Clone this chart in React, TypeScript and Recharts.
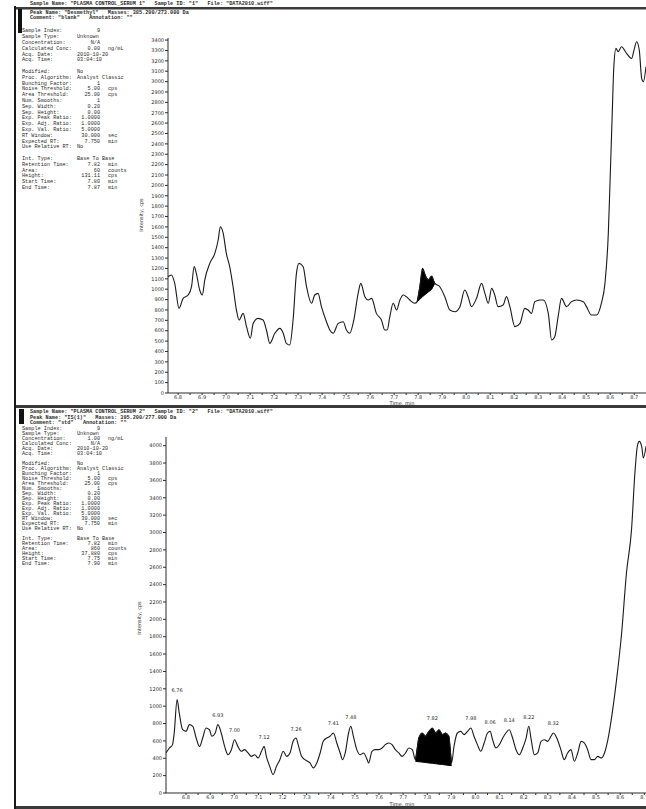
import React from "react";
import {
  Area,
  ComposedChart,
  LabelList,
  Line,
  Scatter,
  XAxis,
  YAxis,
} from "recharts";

// ---- upper trace (no labels) ----
const topTimes = [
  6.758, 6.772, 6.786, 6.804, 6.821, 6.842, 6.856, 6.867, 6.876, 6.89, 6.901, 6.911, 6.932, 6.953,
  6.967, 6.976, 6.988, 7.001, 7.015, 7.029, 7.043, 7.054, 7.071, 7.085, 7.101, 7.113, 7.133, 7.154,
  7.168, 7.182, 7.203, 7.224, 7.238, 7.251, 7.265, 7.279, 7.293, 7.304, 7.321, 7.335, 7.356, 7.369,
  7.383, 7.397, 7.418, 7.432, 7.446, 7.467, 7.488, 7.501, 7.515, 7.532, 7.55, 7.561, 7.578, 7.592,
  7.606, 7.626, 7.647, 7.661, 7.671, 7.682, 7.696, 7.71, 7.724, 7.738, 7.751, 7.765, 7.786, 7.796,
  7.807, 7.818, 7.832, 7.842, 7.856, 7.869, 7.89, 7.911, 7.932, 7.953, 7.974, 7.994, 8.008, 8.022,
  8.043, 8.064, 8.078, 8.092, 8.106, 8.119, 8.133, 8.154, 8.168, 8.182, 8.203, 8.224, 8.244, 8.258,
  8.272, 8.286, 8.307, 8.321, 8.342, 8.356, 8.369, 8.383, 8.397, 8.418, 8.439, 8.46, 8.488, 8.501,
  8.522, 8.543, 8.563, 8.578, 8.592, 8.599, 8.608, 8.615, 8.624, 8.633, 8.647, 8.668, 8.689, 8.699,
  8.71, 8.721, 8.731, 8.738, 8.749,
];
const topValues = [
  1120, 1137, 1056, 815, 912, 944, 1024, 1217, 1153, 992, 944, 1088, 1249, 1345,
  1474, 1602, 1538, 1345, 1217, 1024, 799, 703, 767, 639, 527, 671, 719, 703,
  607, 478, 575, 623, 575, 478, 462, 703, 1153, 1249, 1217, 1024, 864, 944,
  960, 832, 687, 607, 575, 671, 687, 607, 575, 703, 960, 1056, 928, 896,
  912, 767, 703, 607, 607, 735, 864, 799, 896, 944, 928, 896, 864, 880,
  1024, 1201, 1120, 1088, 1127, 1056, 1024, 928, 799, 783, 832, 992, 928, 832,
  912, 1056, 960, 864, 1008, 944, 832, 848, 928, 832, 639, 671, 815, 799,
  767, 880, 896, 896, 767, 510, 543, 735, 912, 832, 880, 896, 880, 832,
  751, 751, 864, 1056, 1538, 2019, 2662, 3143, 3320, 3288, 3336, 3272, 3223, 3304,
  3384, 3304, 3031, 2999, 3143,
];
// integrated (black) peak of the upper trace
const topPeakTimes = [7.796, 7.807, 7.818, 7.832, 7.842, 7.856, 7.869];
const topPeakBase = [880, 902, 928, 954, 973, 998, 1056];
const topPeakTop = [880, 1024, 1201, 1120, 1088, 1127, 1056];

// ---- lower trace ----
const bottomTimes = [
  6.717, 6.731, 6.744, 6.751, 6.763, 6.772, 6.786, 6.8, 6.814, 6.828, 6.842, 6.856, 6.869, 6.883,
  6.897, 6.907, 6.921, 6.932, 6.946, 6.96, 6.974, 6.988, 7.001, 7.015, 7.029, 7.043, 7.057, 7.071,
  7.085, 7.099, 7.113, 7.124, 7.133, 7.147, 7.161, 7.175, 7.189, 7.203, 7.217, 7.231, 7.244, 7.256,
  7.265, 7.279, 7.293, 7.314, 7.328, 7.342, 7.356, 7.369, 7.383, 7.397, 7.411, 7.425, 7.439, 7.449,
  7.46, 7.474, 7.483, 7.494, 7.508, 7.522, 7.536, 7.551, 7.557, 7.571, 7.585, 7.599, 7.613, 7.626,
  7.64, 7.654, 7.668, 7.682, 7.696, 7.71, 7.724, 7.738, 7.751, 7.765, 7.779, 7.793, 7.807, 7.821,
  7.835, 7.849, 7.863, 7.876, 7.89, 7.901, 7.911, 7.925, 7.939, 7.953, 7.967, 7.981, 7.994, 8.008,
  8.022, 8.036, 8.05, 8.061, 8.071, 8.085, 8.099, 8.113, 8.126, 8.14, 8.154, 8.168, 8.182, 8.196,
  8.21, 8.221, 8.231, 8.244, 8.258, 8.272, 8.286, 8.299, 8.313, 8.323, 8.34, 8.354, 8.368, 8.382,
  8.396, 8.41, 8.424, 8.438, 8.451, 8.465, 8.479, 8.493, 8.507, 8.522, 8.535, 8.549, 8.563, 8.585,
  8.606, 8.626, 8.647, 8.661, 8.671, 8.679, 8.689, 8.696, 8.707,
];
const bottomValues = [
  461, 518, 557, 691, 1075, 921, 729, 710, 787, 768, 633, 537, 633, 749,
  729, 653, 691, 787, 691, 537, 441, 499, 614, 537, 480, 499, 461, 422,
  441, 403, 480, 537, 422, 307, 211, 307, 384, 480, 422, 461, 595, 633,
  557, 422, 384, 346, 288, 346, 461, 595, 633, 653, 691, 576, 461, 384,
  461, 691, 768, 653, 499, 441, 461, 384, 346, 480, 499, 499, 518, 557,
  576, 557, 499, 461, 422, 461, 518, 499, 384, 633, 691, 653, 710, 749,
  691, 729, 672, 691, 653, 346, 537, 691, 710, 672, 710, 749, 653, 557,
  480, 576, 691, 710, 614, 518, 557, 633, 691, 729, 633, 499, 441, 518,
  633, 768, 614, 441, 461, 595, 614, 595, 653, 691, 614, 499, 384, 461,
  499, 365, 461, 595, 576, 499, 384, 384, 422, 403, 461, 614, 845, 1305,
  1843, 2534, 3033, 3685, 3993, 4050, 3993, 3858, 3993,
];
// integrated (black) peak of the lower trace
const bottomPeakTimes = [7.751, 7.765, 7.779, 7.793, 7.807, 7.821, 7.835, 7.849, 7.863, 7.876, 7.89, 7.901];
const bottomPeakBase = [365, 360, 356, 351, 346, 342, 337, 332, 328, 323, 318, 315];
const bottomPeakTop = [384, 633, 691, 653, 710, 749, 691, 729, 672, 691, 653, 346];

// apex labels of the lower trace
const apexTimes = [6.763, 6.932, 7.001, 7.124, 7.256, 7.411, 7.483, 7.821, 7.981, 8.061, 8.14, 8.221, 8.323];
const apexValues = [1075, 787, 614, 537, 633, 691, 768, 749, 749, 710, 729, 768, 691];
const apexLabels = ["6.76", "6.93", "7.00", "7.12", "7.26", "7.41", "7.48", "7.82", "7.98", "8.06", "8.14", "8.22", "8.32"];

// axis ticks
const majorTimeTicks = [6.8, 6.9, 7.0, 7.1, 7.2, 7.3, 7.4, 7.5, 7.6, 7.7, 7.8, 7.9, 8.0, 8.1, 8.2, 8.3, 8.4, 8.5, 8.6, 8.7];
const minorTimeTicks = [6.85, 6.95, 7.05, 7.15, 7.25, 7.35, 7.45, 7.55, 7.65, 7.75, 7.85, 7.95, 8.05, 8.15, 8.25, 8.35, 8.45, 8.55, 8.65];
const topIntensityTicks = [
  0, 100, 200, 300, 400, 500, 600, 700, 800, 900, 1000, 1100, 1200, 1300, 1400, 1500, 1600, 1700,
  1800, 1900, 2000, 2100, 2200, 2300, 2400, 2500, 2600, 2700, 2800, 2900, 3000, 3100, 3200, 3300, 3400,
];
const bottomIntensityTicks = [
  0, 200, 400, 600, 800, 1000, 1200, 1400, 1600, 1800, 2000, 2200, 2400, 2600, 2800, 3000, 3200,
  3400, 3600, 3800, 4000,
];

// header / report text
const topHeader = [
  'Sample Name: "PLASMA CONTROL_SERUM 1"   Sample ID: "1"   File: "DATA2010.wiff"',
  'Peak Name: "Desmethyl"   Masses: 385.200/273.000 Da',
  'Comment: "blank"   Annotation: ""',
];
const bottomHeader = [
  'Sample Name: "PLASMA CONTROL_SERUM 2"   Sample ID: "2"   File: "DATA2010.wiff"',
  'Peak Name: "IS(1)"   Masses: 395.200/277.000 Da',
  'Comment: "std"   Annotation: ""',
];
type Row = [string, string, string] | null;
const topReport: Row[] = [
  ["Sample Index:", "9", ""],
  ["Sample Type:", "Unknown", ""],
  ["Concentration:", "N/A", ""],
  ["Calculated Conc:", "0.00", "ng/mL"],
  ["Acq. Date:", "2010-10-20", ""],
  ["Acq. Time:", "03:04:10", ""],
  null,
  ["Modified:", "No", ""],
  ["Proc. Algorithm:", "Analyst Classic", ""],
  ["Bunching Factor:", "1", ""],
  ["Noise Threshold:", "5.00", "cps"],
  ["Area Threshold:", "25.00", "cps"],
  ["Num. Smooths:", "1", ""],
  ["Sep. Width:", "0.20", ""],
  ["Sep. Height:", "0.00", ""],
  ["Exp. Peak Ratio:", "1.0000", ""],
  ["Exp. Adj. Ratio:", "1.0000", ""],
  ["Exp. Val. Ratio:", "5.0000", ""],
  ["RT Window:", "30.000", "sec"],
  ["Expected RT:", "7.750", "min"],
  ["Use Relative RT:", "No", ""],
  null,
  ["Int. Type:", "Base To Base", ""],
  ["Retention Time:", "7.82", "min"],
  ["Area:", "60", "counts"],
  ["Height:", "131.11", "cps"],
  ["Start Time:", "7.80", "min"],
  ["End Time:", "7.87", "min"],
];
const bottomReport: Row[] = [
  ["Sample Index:", "9", ""],
  ["Sample Type:", "Unknown", ""],
  ["Concentration:", "1.00", "ng/mL"],
  ["Calculated Conc:", "N/A", ""],
  ["Acq. Date:", "2010-10-20", ""],
  ["Acq. Time:", "03:04:10", ""],
  null,
  ["Modified:", "No", ""],
  ["Proc. Algorithm:", "Analyst Classic", ""],
  ["Bunching Factor:", "1", ""],
  ["Noise Threshold:", "5.00", "cps"],
  ["Area Threshold:", "25.00", "cps"],
  ["Num. Smooths:", "1", ""],
  ["Sep. Width:", "0.20", ""],
  ["Sep. Height:", "0.00", ""],
  ["Exp. Peak Ratio:", "1.0000", ""],
  ["Exp. Adj. Ratio:", "1.0000", ""],
  ["Exp. Val. Ratio:", "5.0000", ""],
  ["RT Window:", "30.000", "sec"],
  ["Expected RT:", "7.750", "min"],
  ["Use Relative RT:", "No", ""],
  null,
  ["Int. Type:", "Base To Base", ""],
  ["Retention Time:", "7.82", "min"],
  ["Area:", "860", "counts"],
  ["Height:", "37.880", "cps"],
  ["Start Time:", "7.75", "min"],
  ["End Time:", "7.90", "min"],
];

const INK = "#2b2b2b";
const MONO = "'Liberation Mono', 'DejaVu Sans Mono', monospace";
const SANS = "'DejaVu Sans', Arial, sans-serif";

const zip = (ts: number[], vs: number[]) => ts.map((t, i) => ({ t, v: vs[i] }));
const zipRange = (ts: number[], lo: number[], hi: number[]) =>
  ts.map((t, i) => ({ t, range: [lo[i], hi[i]] }));

const timeTicks = [...majorTimeTicks, ...minorTimeTicks].sort((a, b) => a - b);

function TimeTick(props: any) {
  const { x, y, payload } = props;
  if (!majorTimeTicks.includes(payload.value)) return <g />;
  return (
    <text x={x} y={y} dy="0.71em" textAnchor="middle" fontSize={5} fill={INK} fontFamily={SANS}>
      {payload.value.toFixed(1)}
    </text>
  );
}

// apex time printed just above the peak
function ApexLabel(props: any) {
  const { x, y, width, value } = props;
  const cx = x + (width || 0) / 2;
  return (
    <text x={cx} y={y - 3} textAnchor="middle" fontSize={5} fill={INK} fontFamily={SANS}>
      {value}
    </text>
  );
}

function Trace({
  top,
  height,
  plotTop,
  axisWidth,
  xDomain,
  yDomain,
  yTicks,
  line,
  peak,
  apex,
}: {
  top: number;
  height: number;
  plotTop: number;
  axisWidth: number;
  xDomain: [number, number];
  yDomain: [number, number];
  yTicks: number[];
  line: { t: number; v: number }[];
  peak: { t: number; range: number[] }[];
  apex?: { t: number; v: number; label: string }[];
}) {
  return (
    <div style={{ position: "absolute", left: 0, top }}>
      <ComposedChart width={646} height={height} margin={{ top: plotTop, right: 0, bottom: 0, left: 0 }}>
        <XAxis
          type="number"
          dataKey="t"
          domain={xDomain}
          ticks={timeTicks}
          interval={0}
          allowDataOverflow
          height={16}
          tickSize={2}
          tickMargin={0}
          tick={<TimeTick />}
          stroke={INK}
        />
        <YAxis
          type="number"
          domain={yDomain}
          ticks={yTicks}
          interval={0}
          width={axisWidth}
          tickSize={3}
          tickMargin={1}
          tick={{ fontSize: 5, fill: INK, fontFamily: SANS }}
          stroke={INK}
        />
        <Area
          data={peak}
          dataKey="range"
          type="linear"
          stroke="#000"
          strokeWidth={1}
          fill="#000"
          fillOpacity={1}
          isAnimationActive={false}
          dot={false}
          activeDot={false}
        />
        <Line
          data={line}
          dataKey="v"
          type="monotone"
          stroke="#1a1a1a"
          strokeWidth={1.1}
          dot={false}
          activeDot={false}
          isAnimationActive={false}
        />
        {apex && (
          <Scatter data={apex} dataKey="v" fill={INK} shape={() => <g />} isAnimationActive={false}>
            <LabelList dataKey="label" content={<ApexLabel />} />
          </Scatter>
        )}
      </ComposedChart>
    </div>
  );
}

function Report({ header, headerRows, rows, rowY, rowStep }: { header: string[]; headerRows: number[]; rows: Row[]; rowY: number; rowStep: number }) {
  return (
    <g fontFamily={MONO} fontSize={5.2} fill={INK}>
      {header.map((h, i) => (
        <text key={"h" + i} x={30} y={headerRows[i]} fontWeight="bold" dominantBaseline="middle" style={{ whiteSpace: "pre" }}>
          {h}
        </text>
      ))}
      {rows.map((r, i) =>
        r ? (
          <g key={i}>
            <text x={22} y={rowY + i * rowStep} dominantBaseline="middle">{r[0]}</text>
            {/^[\d.]+$|^N\/A$/.test(r[1]) ? (
              <text x={100} y={rowY + i * rowStep} textAnchor="end" dominantBaseline="middle">{r[1]}</text>
            ) : (
              <text x={77} y={rowY + i * rowStep} dominantBaseline="middle">{r[1]}</text>
            )}
            <text x={108} y={rowY + i * rowStep} dominantBaseline="middle">{r[2]}</text>
          </g>
        ) : null
      )}
    </g>
  );
}

export default function App() {
  return (
    <div style={{ position: "relative", width: 646, height: 809, overflow: "hidden", background: "#fff" }}>
      <style>{"body{margin:0}"}</style>
      <Trace
        top={0}
        height={409}
        plotTop={38}
        axisWidth={168}
        xDomain={[6.758, 8.749]}
        yDomain={[0, 3420]}
        yTicks={topIntensityTicks}
        line={zip(topTimes, topValues)}
        peak={zipRange(topPeakTimes, topPeakBase, topPeakTop)}
      />
      <Trace
        top={400}
        height={409}
        plotTop={37}
        axisWidth={166}
        xDomain={[6.717, 8.707]}
        yDomain={[0, 4100]}
        yTicks={bottomIntensityTicks}
        line={zip(bottomTimes, bottomValues)}
        peak={zipRange(bottomPeakTimes, bottomPeakBase, bottomPeakTop)}
        apex={apexTimes.map((t, i) => ({ t, v: apexValues[i], label: apexLabels[i] }))}
      />
      <svg width={646} height={809} style={{ position: "absolute", left: 0, top: 0, pointerEvents: "none" }}>
        {/* frames */}
        <rect x={14} y={7} width={632} height={2.5} fill="#3a3a3a" />
        <rect x={14} y={405} width={632} height={3} fill="#3a3a3a" />
        <rect x={14} y={806} width={632} height={3} fill="#3a3a3a" />
        <rect x={14} y={6} width={2} height={803} fill="#1a1a1a" />
        <rect x={18} y={9} width={4} height={24} fill="#111" />
        <rect x={19} y={409} width={5} height={15} fill="#111" />
        <Report header={topHeader} headerRows={[4, 12.5, 18]} rows={topReport} rowY={31} rowStep={5.8} />
        <Report header={bottomHeader} headerRows={[412, 417.5, 423]} rows={bottomReport} rowY={429} rowStep={5.0} />
        {/* axis titles */}
        <g fontFamily={SANS} fontSize={5} fill={INK}>
          <text x={143} y={215} textAnchor="middle" transform="rotate(-90 143 215)">Intensity, cps</text>
          <text x={141} y={618} textAnchor="middle" transform="rotate(-90 141 618)">Intensity, cps</text>
          <text x={402} y={404.5} textAnchor="middle">Time, min</text>
          <text x={402} y={805.5} textAnchor="middle">Time, min</text>
        </g>
      </svg>
    </div>
  );
}
